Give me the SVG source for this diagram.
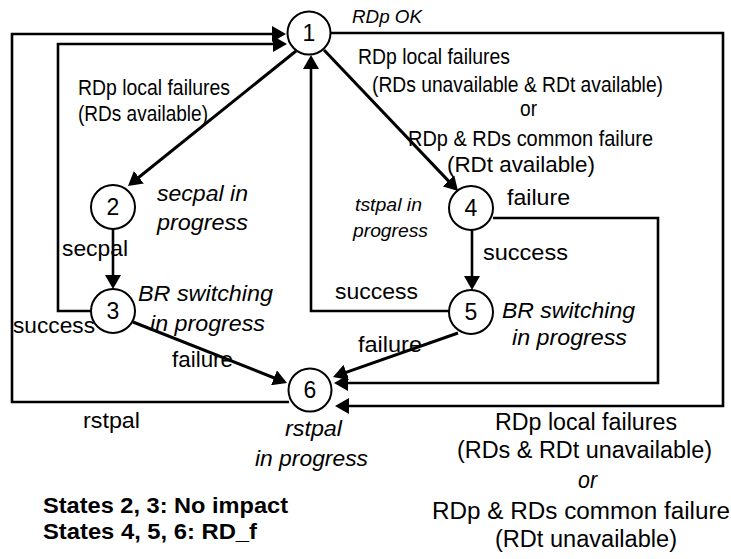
<svg xmlns="http://www.w3.org/2000/svg" width="731" height="559" viewBox="0 0 731 559">
<style>
.bg{fill:#fff}
.n circle{fill:#fff;stroke:#000;stroke-width:2}
.n text{font-family:"Liberation Sans",Arial,Helvetica,sans-serif;font-size:23px;text-anchor:middle;fill:#000}
.c line,.c polyline{stroke:#000;stroke-width:2.6;fill:none;marker-end:url(#ah)}
.c .d{stroke-width:3}
.t{font-family:"Liberation Sans",Arial,Helvetica,sans-serif;fill:#000;font-size:22px}
.s21{font-size:22px}
.s19{font-size:19px}
.s18{font-size:18px}
.s23{font-size:23px}
.i{font-style:italic}
.b{font-weight:bold}
</style>
<defs>
<marker id="ah" markerUnits="userSpaceOnUse" viewBox="0 0 14 16" refX="10" refY="8" markerWidth="14" markerHeight="16" orient="auto">
<path d="M0,0 L14,8 L0,16 z" fill="#000"/>
</marker>
</defs>
<rect class="bg" x="0" y="0" width="731" height="559"/>
<g id="connectors" class="c">
<polyline points="289,402 12,402 12,34 282,34"/>
<polyline points="91,311 58,311 58,44 283,44"/>
<polyline points="449,311 311,311 311,59"/>
<line class="d" x1="296" y1="51" x2="131.1" y2="183.5"/>
<line class="d" x1="324" y1="50" x2="455.3" y2="188.1"/>
<line x1="113" y1="229" x2="113" y2="285"/>
<line x1="472" y1="230" x2="472" y2="286"/>
<line class="d" x1="133" y1="322" x2="283.3" y2="381.5"/>
<line class="d" x1="458" y1="333" x2="336.8" y2="375.7"/>
<polyline points="493,218 658,218 658,383 338,383"/>
<polyline points="330,33 723,33 723,406 339,406"/>
</g>
<g id="node1" class="n"><circle cx="309" cy="33" r="21.5"/><text x="309" y="41">1</text></g>
<g id="node2" class="n"><circle cx="113" cy="207" r="22"/><text x="113" y="215">2</text></g>
<g id="node3" class="n"><circle cx="113" cy="311" r="22"/><text x="113" y="319">3</text></g>
<g id="node4" class="n"><circle cx="471" cy="208" r="22"/><text x="471" y="216">4</text></g>
<g id="node5" class="n"><circle cx="471" cy="312" r="22"/><text x="471" y="320">5</text></g>
<g id="node6" class="n"><circle cx="310" cy="390" r="21.5"/><text x="310" y="398">6</text></g>
<g id="labels" class="t">
<text class="i s18" x="352" y="23" textLength="70" lengthAdjust="spacingAndGlyphs">RDp OK</text>
<text class="s21" x="358" y="64" textLength="152" lengthAdjust="spacingAndGlyphs">RDp local failures</text>
<text class="s21" x="372" y="92" textLength="291" lengthAdjust="spacingAndGlyphs">(RDs unavailable &amp; RDt available)</text>
<text class="s21" x="520" y="116" textLength="17" lengthAdjust="spacingAndGlyphs">or</text>
<text class="s21" x="408" y="146" textLength="245" lengthAdjust="spacingAndGlyphs">RDp &amp; RDs common failure</text>
<text class="s21" x="447" y="172" textLength="148" lengthAdjust="spacingAndGlyphs">(RDt available)</text>
<text class="s21" x="78" y="95" textLength="152" lengthAdjust="spacingAndGlyphs">RDp local failures</text>
<text class="s21" x="78" y="121" textLength="130" lengthAdjust="spacingAndGlyphs">(RDs available)</text>
<text class="i" x="157" y="201" textLength="91" lengthAdjust="spacingAndGlyphs">secpal in</text>
<text class="i" x="157" y="230" textLength="91" lengthAdjust="spacingAndGlyphs">progress</text>
<text class="i" x="138" y="301" textLength="135" lengthAdjust="spacingAndGlyphs">BR switching</text>
<text class="i" x="150" y="331" textLength="115" lengthAdjust="spacingAndGlyphs">in progress</text>
<text class="i s19" x="355" y="211" textLength="67" lengthAdjust="spacingAndGlyphs">tstpal in</text>
<text class="i s19" x="353" y="237" textLength="75" lengthAdjust="spacingAndGlyphs">progress</text>
<text class="i" x="502" y="318" textLength="133" lengthAdjust="spacingAndGlyphs">BR switching</text>
<text class="i" x="512" y="345" textLength="115" lengthAdjust="spacingAndGlyphs">in progress</text>
<text class="i" x="285" y="436" textLength="57" lengthAdjust="spacingAndGlyphs">rstpal</text>
<text class="i" x="255" y="466" textLength="113" lengthAdjust="spacingAndGlyphs">in progress</text>
<text x="62" y="256" textLength="66" lengthAdjust="spacingAndGlyphs">secpal</text>
<text x="13" y="333" textLength="82" lengthAdjust="spacingAndGlyphs">success</text>
<text x="172" y="367" textLength="61" lengthAdjust="spacingAndGlyphs">failure</text>
<text x="507" y="205" textLength="63" lengthAdjust="spacingAndGlyphs">failure</text>
<text x="483" y="260" textLength="85" lengthAdjust="spacingAndGlyphs">success</text>
<text x="335" y="299" textLength="83" lengthAdjust="spacingAndGlyphs">success</text>
<text x="358" y="352" textLength="64" lengthAdjust="spacingAndGlyphs">failure</text>
<text x="83" y="428" textLength="57" lengthAdjust="spacingAndGlyphs">rstpal</text>
<text class="s23" x="495" y="430" textLength="182" lengthAdjust="spacingAndGlyphs">RDp local failures</text>
<text class="s23" x="457" y="458" textLength="255" lengthAdjust="spacingAndGlyphs">(RDs &amp; RDt unavailable)</text>
<text class="s23 i" x="578" y="488" textLength="19" lengthAdjust="spacingAndGlyphs">or</text>
<text class="s23" x="432" y="519" textLength="298" lengthAdjust="spacingAndGlyphs">RDp &amp; RDs common failure</text>
<text class="s23" x="495" y="547" textLength="182" lengthAdjust="spacingAndGlyphs">(RDt unavailable)</text>
<text class="b" x="43" y="513" textLength="245" lengthAdjust="spacingAndGlyphs">States 2, 3: No impact</text>
<text class="b" x="43" y="539" textLength="214" lengthAdjust="spacingAndGlyphs">States 4, 5, 6: RD_f</text>
</g>
</svg>
